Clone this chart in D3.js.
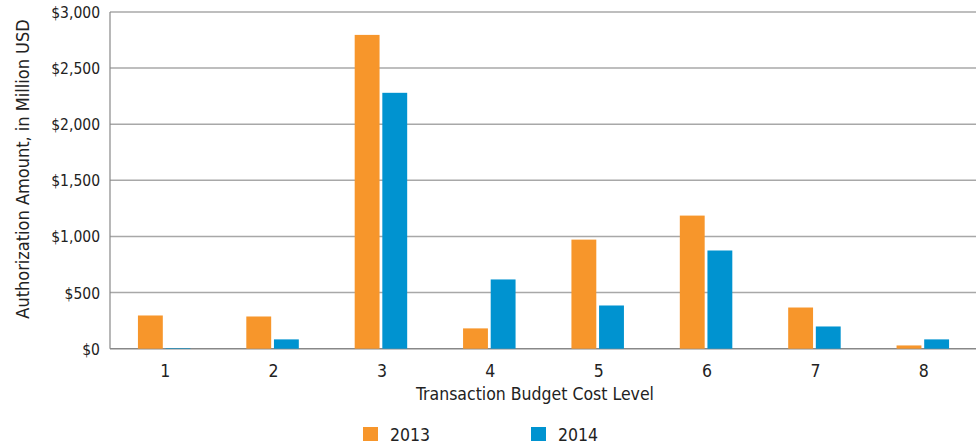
<!DOCTYPE html>
<html>
<head>
<meta charset="utf-8">
<script src="https://cdn.jsdelivr.net/npm/d3@7"></script>
<style>
  body { margin: 0; background: #fff; }
  text { font-family: "Liberation Sans Narrow", "DejaVu Sans Condensed", "Roboto", sans-serif; fill: #222; }
</style>
</head>
<body>
<div id="chart"></div>
<script>
!(function(){
    "use strict"

    var width = 976;
    var height = 445;

    // data
    var levels = ["1", "2", "3", "4", "5", "6", "7", "8"];
    var years = ["2013", "2014"];
    var values2013 = [296, 287, 2796, 181, 972, 1186, 367, 29];
    var values2014 = [5, 83, 2280, 617, 385, 875, 198, 83];
    var yTicks = [0, 500, 1000, 1500, 2000, 2500, 3000];
    var colors = ["#f7962b", "#0093d0"];

    var margin = {top: 12, right: -1, bottom: 96, left: 110};

    var svg = d3.select("#chart").append("svg")
        .attr("width", width)
        .attr("height", height);

    var x = d3.scaleBand()
        .domain(levels)
        .range([margin.left, width - margin.right]);

    var xInner = d3.scaleBand()
        .domain(years)
        .range([0, 52.5])
        .paddingInner(0.1);

    var y = d3.scaleLinear()
        .domain([0, 3000])
        .range([height - margin.bottom - 0.3, margin.top]);

    // gridlines
    svg.append("g")
        .selectAll("line")
        .data(yTicks)
        .join("line")
        .attr("x1", margin.left)
        .attr("x2", width)
        .attr("y1", function(d){ return y(d); })
        .attr("y2", function(d){ return y(d); })
        .attr("stroke", function(d){ return d === 0 ? "#888" : "#a8a8a8"; })
        .attr("stroke-width", 1.5);

    // left axis line
    svg.append("line")
        .attr("x1", margin.left).attr("x2", margin.left)
        .attr("y1", y(3000)).attr("y2", y(0))
        .attr("stroke", "#888")
        .attr("stroke-width", 1.2);

    var fmt = d3.format(",");
    svg.append("g")
        .selectAll("text")
        .data(yTicks)
        .join("text")
        .attr("x", 100)
        .attr("y", function(d){ return y(d) + 6; })
        .attr("text-anchor", "end")
        .style("font-size", "15.5px")
        .text(function(d){ return "$" + fmt(d); });

    // bars
    var series = [values2013, values2014];
    var groups = svg.append("g")
        .selectAll("g")
        .data(levels)
        .join("g")
        .attr("transform", function(d){ return "translate(" + (x(d) + x.bandwidth() / 2 - 26.25) + ",0)"; });

    groups.selectAll("rect")
        .data(function(d, i){ return years.map(function(yr, j){ return {year: yr, value: series[j][i]}; }); })
        .join("rect")
        .attr("x", function(d){ return xInner(d.year); })
        .attr("width", xInner.bandwidth())
        .attr("y", function(d){ return y(d.value); })
        .attr("height", function(d){ return y(0) - y(d.value); })
        .attr("fill", function(d, j){ return colors[j]; });

    // x tick labels
    svg.append("g")
        .selectAll("text")
        .data(levels)
        .join("text")
        .attr("x", function(d){ return x(d) + x.bandwidth() / 2 + 1; })
        .attr("y", 377)
        .attr("text-anchor", "middle")
        .style("font-size", "17.5px")
        .text(function(d){ return d; });

    // axis titles
    svg.append("text")
        .attr("x", 535)
        .attr("y", 400)
        .attr("text-anchor", "middle")
        .style("font-size", "17.5px")
        .text("Transaction Budget Cost Level");

    svg.append("text")
        .attr("transform", "translate(29,169) rotate(-90)")
        .attr("text-anchor", "middle")
        .style("font-size", "18px")
        .text("Authorization Amount, in Million USD");

    // legend
    var legend = svg.append("g")
        .selectAll("g")
        .data(years)
        .join("g")
        .attr("transform", function(d, i){ return "translate(" + (363 + i * 168) + ",427)"; });

    legend.append("rect")
        .attr("width", 15)
        .attr("height", 14)
        .attr("fill", function(d, i){ return colors[i]; });

    legend.append("text")
        .attr("x", 27)
        .attr("y", 14)
        .style("font-size", "17.5px")
        .text(function(d){ return d; });

}());
</script>
</body>
</html>
